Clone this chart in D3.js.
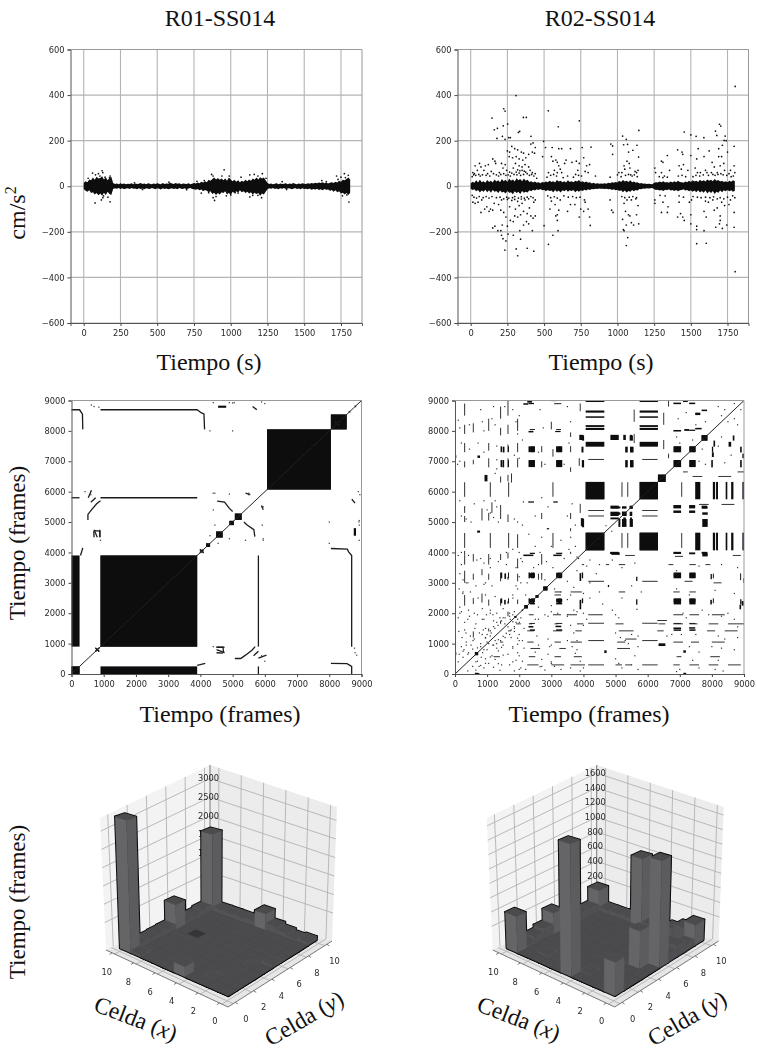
<!DOCTYPE html>
<html>
<head>
<meta charset="utf-8">
<script src="https://cdn.jsdelivr.net/npm/d3@7"></script>
<style>
html, body { margin: 0; padding: 0; background: #fff; }
svg { display: block; }
.lbl { font-family: "Liberation Serif", serif; fill: #111; }
.tick text, .tk { font-family: "DejaVu Sans", sans-serif; font-size: 8.3px; fill: #2a2a2a; }
</style>
</head>
<body>
<div id="chart"></div>
<script>
var width = 757, height = 1051;

// ---- scatter panels: edge of the solid band, one value every bandStep seconds, then the loose points
var bandStep = 12.5;
var r01Upper = [14,22,18,30,26,38,28,42,34,36,44,30,40,26,36,42,
  14,10,12,9,13,10,12,9,11,10,13,9,12,10,11,14,
  10,12,9,13,11,9,12,10,13,11,9,14,10,12,11,15,
  12,10,14,11,13,9,12,11,10,13,9,11,
  14,12,17,13,20,16,22,18,28,24,32,38,30,36,28,34,
  26,34,24,38,30,22,28,20,26,18,24,20,28,22,30,24,
  34,28,38,30,40,34,38,26,14,
  10,12,9,11,13,9,12,10,11,13,9,12,10,14,11,9,12,10,13,11,
  10,13,11,14,12,15,13,16,14,18,13,16,12,15,18,14,20,16,24,20,28,26,32,38,30];
var r01Lower = [-12,-20,-24,-18,-30,-26,-36,-30,-40,-32,-42,-28,-38,-24,-34,-38,
  -12,-9,-11,-8,-12,-9,-13,-10,-9,-12,-8,-11,-10,-13,-9,-12,
  -10,-13,-9,-11,-12,-8,-10,-13,-9,-11,-14,-9,-12,-10,-13,-11,
  -9,-12,-10,-13,-8,-11,-12,-9,-13,-10,-8,-12,
  -13,-15,-12,-18,-14,-22,-16,-20,-26,-22,-34,-28,-38,-30,-36,-26,
  -30,-22,-36,-28,-40,-24,-30,-22,-28,-18,-26,-22,-30,-24,-32,-26,
  -36,-28,-34,-30,-42,-32,-36,-24,-13,
  -9,-11,-8,-12,-10,-13,-9,-11,-8,-12,-10,-9,-13,-11,-8,-12,-10,-13,-9,-12,
  -11,-13,-10,-15,-12,-14,-11,-16,-13,-18,-12,-15,-14,-20,-16,-24,-18,-26,-22,-32,-28,-36,-30,-38,-28];
var r01Points = [[77,-73],[179,-68],[1804,-69],[60,58],[80,50],[100,55],[125,68],[130,60],[110,45],[145,40],[180,45],[175,38],[30,35],
  [120,-60],[130,-50],[165,-48],[135,-42],[955,72],[870,52],[880,45],[940,45],[890,-62],[880,-50],[900,-45],[970,-42],[1000,-38],[990,45],
  [1070,40],[1130,50],[1160,52],[1185,45],[1215,55],[1210,-50],[1185,-40],[1130,-47],[1150,-40],[1050,-30],[1030,-28],[1240,35],[1730,30],
  [1773,55],[1720,45],[1800,48],[1780,38],[1750,40],[1760,-42],[1790,-38],[1350,20],[1620,25],[700,-15],[400,-14],[1380,-14],[580,18],
  [345,15],[1650,20],[820,25],[770,22],[800,-30],[850,-28]];
var r02Upper = [12,20,15,26,16,29,18,22,15,27,19,24,16,30,21,26,18,32,22,29,19,34,24,30,21,35,26,32,22,34,24,29,19,22,16,21,15,18,13,19,
  16,21,18,24,19,22,16,27,21,24,18,22,16,26,19,22,18,24,21,27,19,22,16,21,15,18,12,15,11,13,11,12,11,13,11,15,13,18,15,19,
  16,24,19,27,21,24,19,26,18,21,15,18,12,14,11,12,10,11,10,9,15,18,16,21,18,22,16,19,15,21,16,22,18,24,19,18,15,21,18,24,
  19,26,21,24,19,29,22,26,21,30,24,29,22,32,24,27,21,24,19,22,18,24,20,26,22];
var r02Lower = [-11,-16,-13,-22,-16,-27,-19,-24,-15,-26,-18,-29,-16,-24,-21,-30,-19,-27,-24,-32,-21,-29,-26,-35,-22,-30,-24,-34,-21,-29,-24,-27,-18,-22,-15,-19,-13,-16,-12,-18,
  -15,-22,-16,-21,-19,-26,-16,-24,-19,-27,-18,-22,-15,-24,-18,-21,-16,-26,-19,-24,-18,-21,-15,-19,-13,-16,-12,-13,-11,-12,-10,-11,-11,-12,-11,-13,-12,-16,-13,-18,
  -15,-21,-18,-26,-19,-27,-21,-24,-16,-22,-16,-19,-12,-13,-10,-11,-9,-10,-9,-8,-13,-16,-15,-19,-16,-21,-15,-18,-13,-19,-16,-21,-16,-22,-18,-16,-13,-19,-16,-22,
  -18,-24,-19,-26,-18,-27,-21,-29,-19,-32,-22,-30,-21,-34,-24,-29,-19,-26,-18,-22,-16,-22,-18,-24,-20];
var r02Points = [[309,398],[1802,438],[145,299],[225,340],[234,330],[529,331],[740,287],[597,261],[252,273],[222,265],[161,248],[182,254],
  [325,236],[334,241],[359,302],[379,302],[411,219],[216,219],[179,210],[234,206],[259,213],[270,213],[497,197],[1668,242],[1677,223],
  [1695,272],[1704,264],[1734,220],[1741,200],[1727,201],[1455,238],[1500,225],[1536,219],[1589,213],[1035,220],[1060,206],[1146,245],
  [1133,180],[955,185],[967,177],[967,140],[1042,182],[1069,184],[1076,150],[1105,158],[1144,128],
  [280,175],[300,165],[320,160],[345,150],[360,145],[265,150],[250,155],[262,130],[285,125],[310,130],[330,120],[355,115],[375,125],
  [395,140],[420,150],[435,145],[410,185],[440,170],[425,190],[305,100],[330,90],[350,85],[290,80],[370,95],[395,85],[235,95],[220,80],
  [245,70],[210,100],[150,120],[165,110],[170,100],[100,90],[120,95],[60,100],[70,85],[30,90],[45,70],[90,70],[140,65],[195,60],[15,60],
  [25,55],[320,72],[335,68],[350,70],[365,66],[310,62],[330,58],[375,62],[265,62],[280,58],[420,60],[440,55],[405,70],
  [555,170],[600,165],[620,165],[510,170],[490,130],[560,110],[580,115],[590,105],[600,90],[550,130],[610,75],[530,60],[570,70],[590,60],
  [620,60],[640,100],[650,115],[680,165],[690,105],[720,110],[740,100],[760,170],[770,125],[790,90],[810,95],[820,172],[780,65],[800,60],
  [730,70],[850,45],[950,40],[1000,50],[1010,60],[1050,75],[1065,110],[1080,100],[1085,80],[1120,65],[1130,60],[1140,70],[1045,90],
  [1030,60],[1090,50],[1255,80],[1260,60],[1300,110],[1310,105],[1340,135],[1300,60],[1320,45],[1355,70],[1410,160],[1440,150],
  [1445,140],[1420,90],[1435,75],[1450,95],[1480,70],[1500,135],[1530,80],[1550,165],[1540,120],[1545,60],[1565,60],[1590,130],[1600,70],
  [1625,155],[1645,105],[1610,60],[1660,85],[1690,130],[1710,130],[1725,100],[1690,165],[1715,180],[1750,150],[1770,70],[1795,175],
  [1795,90],[1800,60],[1680,60],[1700,90],[1730,70],[1760,55],[1640,60],
  // close to the band
  [10,42],[20,50],[35,48],[55,52],[65,45],[80,50],[105,48],[115,55],[130,45],[155,55],[175,50],[190,45],[205,52],[225,55],[240,48],[255,50],
  [270,45],[295,52],[315,50],[340,48],[360,52],[385,55],[400,48],[415,52],[430,45],[450,35],[520,40],[545,48],[565,52],[585,45],[630,38],
  [660,45],[700,40],[715,52],[735,48],[755,45],[1025,42],[1055,48],[1075,52],[1100,45],[1115,50],[1135,42],[1285,42],[1310,38],[1340,40],
  [1415,45],[1440,48],[1465,42],[1515,42],[1535,48],[1560,45],[1585,50],[1620,48],[1650,52],[1665,48],[1685,52],[1705,55],[1720,50],[1745,48],
  [1775,42],[1790,45],
  [10,-40],[22,-48],[40,-52],[58,-45],[85,-50],[105,-45],[125,-52],[145,-45],[175,-50],[200,-48],[225,-55],[245,-48],[260,-52],[285,-50],
  [300,-45],[325,-52],[345,-46],[365,-52],[385,-48],[410,-45],[425,-50],[525,-42],[545,-50],[570,-46],[590,-52],[635,-42],[665,-48],[695,-45],
  [720,-50],[745,-48],[1030,-45],[1050,-50],[1080,-48],[1105,-45],[1130,-50],[1290,-40],[1325,-42],[1420,-42],[1450,-48],[1515,-45],[1545,-48],
  [1570,-50],[1600,-48],[1630,-50],[1655,-46],[1680,-55],[1700,-50],[1725,-55],[1750,-48],[1785,-42],
  [1802,-375],[320,-305],[233,-280],[385,-272],[310,-275],[430,-285],[530,-255],[1060,-260],[1540,-252],[1605,-250],[1070,-225],[560,-215],
  [290,-215],[340,-232],[240,-240],[220,-230],[210,-215],[205,-195],[150,-183],[165,-175],[185,-195],[255,-210],[335,-195],[360,-170],
  [380,-155],[395,-165],[420,-195],[410,-130],[425,-140],[440,-130],[215,-170],[250,-175],[270,-150],[290,-155],[300,-130],[320,-135],
  [340,-125],[360,-110],[385,-120],[240,-135],[225,-115],[205,-105],[150,-105],[125,-110],[135,-100],[70,-115],[95,-100],[110,-90],[15,-70],
  [30,-75],[50,-70],[75,-60],[160,-75],[190,-80],[265,-90],[305,-100],[330,-85],[350,-75],[400,-95],[430,-70],[440,-60],[280,-62],[300,-58],
  [320,-66],[345,-56],[370,-60],[395,-55],[250,-58],[210,-60],
  [500,-173],[540,-100],[595,-195],[590,-150],[580,-130],[590,-125],[600,-105],[550,-65],[575,-80],[610,-60],[660,-110],[680,-80],[710,-80],
  [740,-135],[750,-100],[770,-110],[780,-70],[815,-172],[810,-135],[800,-100],[775,-60],[950,-60],[960,-105],[970,-115],[1035,-145],
  [1040,-190],[1045,-195],[1060,-170],[1075,-125],[1085,-130],[1095,-160],[1110,-170],[1145,-165],[1130,-125],[1140,-85],[1055,-110],
  [1045,-75],[1065,-60],[1095,-60],[1125,-55],[1255,-60],[1255,-75],[1300,-115],[1340,-115],[1345,-90],[1310,-70],[1410,-135],[1430,-120],
  [1445,-135],[1455,-150],[1420,-70],[1490,-70],[1500,-125],[1500,-165],[1505,-60],[1540,-175],[1540,-190],[1590,-195],[1605,-135],
  [1590,-110],[1620,-70],[1660,-105],[1670,-180],[1680,-95],[1695,-165],[1700,-130],[1700,-150],[1715,-185],[1745,-170],[1730,-85],
  [1710,-70],[1650,-60],[1795,-180],[1795,-115],[1800,-50],[1770,-60],[1760,-80],[1600,-65]];
var timeTicks = [0,250,500,750,1000,1250,1500,1750];
var accelTicks = [-600,-400,-200,0,200,400,600];

// ---- recurrence panels, in frames. Everything is drawn twice, mirrored on the diagonal
var frameTicks = [0,1000,2000,3000,4000,5000,6000,7000,8000,9000];
var r01Blocks = [[900,3900,900,3900],[0,250,900,3900],[0,250,0,250],[6070,8050,6070,8050],[8050,8540,8050,8540],
  [4490,4690,4490,4690],[5070,5280,5070,5280],[4900,5040,4900,5040],[4180,4300,4180,4300],[4550,4800,8760,8830]];
var r01Lines = [[[900,8695],[3900,8695],[4020,8600],[4110,8560],[4130,8050]],
  [[0,8695],[250,8695],[340,8550],[350,8050]],
  [[900,5800],[3900,5800]],[[0,5800],[250,5800]],
  [[4520,5690],[4750,5660],[4900,5450],[5000,5350]],
  [[5070,510],[5250,510],[5400,620],[5600,780],[5700,900]],
  [[3900,280],[4150,350]],[[4500,880],[4700,880],[4720,700]],[[4500,700],[4700,690]],
  [[700,4750],[800,4500]],[[880,4750],[880,4500]],[[5400,5950],[5550,5900]],[[600,5650],[750,5800]],[[620,6050],[520,5800]],
  [[5620,8800],[5750,8700]],[[740,740],[860,860]],[[740,860],[860,740]],
  [[4000,3980],[4100,4100]],[[4000,4100],[4100,3980]]];
var r01Dots = [[700,8800],[850,8780],[620,8850],[4300,8000],[4900,8930],[5000,8920],[4400,5950],[4900,5920],[5500,5900],[5950,5500],
  [4550,4300],[4900,4450],[5400,4400],[5950,4450],[8000,5000],[8930,5050],[8950,5900],[8900,6000],[8930,4400],[4400,900],[5900,600],[6000,420],
  [8200,8280],[8620,8640],[8800,8820]];

var r02BigBlocks = [[4070,4650],[5750,6320]];
var r02BigCols = [[7480,7640],[8030,8100],[8130,8190],[8430,8480],[8600,8670],[8950,9000]];
var r02ThinLevels = [300,1100,1670,3050,5200,5380,7060];
var r02MidRows = [[2330,2490],[3150,3340]];
var r02MidCols = [[1420,1470],[1650,1680],[2290,2340],[2370,2470],[3160,3180],[3190,3320],[3950,3990]];
var r02HighRows = [[6810,7040],[7300,7490]];
var r02Blocks = [[6320,6560,6320,6560],[5090,5150,4840,5100],[4840,5100,7700,7870],[5240,5320,4870,5150],[5450,5510,4870,5150],
  [5240,5320,7700,7870],[5450,5510,7700,7870],[7680,7860,7680,7860],[4840,5100,5440,5540],[4840,5100,5200,5340],[5440,5520,5200,5340],
  [5440,5520,5440,5540],[5200,5340,5200,5340],[2160,2270,2160,2270],[2750,2880,2750,2880],[2510,2600,2510,2600],[1850,1910,1850,1910],
  [620,720,620,720],[0,30,690,760],[620,720,0,40],[6340,6550,920,1010],[2130,2280,8860,8910],[2290,2460,8880,8920],[3090,3310,8880,8910],
  [4760,4800,2860,2930],[7110,7190,700,780],[7110,7200,0,40],[4650,4720,690,780],[3870,4000,7700,7870],[3920,4000,4870,5130],
  [2290,2440,7950,8000],[3120,3290,7960,8000],[6800,7040,8880,8930],[7290,7480,8880,8930],[6800,7040,7980,8030],[7290,7480,8000,8040],
  [7480,7640,8520,8600],[7680,7850,8650,8700],[7480,7680,8050,8100],[6800,7040,5450,5560],[6800,7040,5300,5380],[7290,7480,5450,5560],
  [7290,7480,5300,5380],[7680,7850,5440,5540],[4830,5100,3950,4020],[6800,7040,3950,4020],[7290,7480,3940,4000],[7680,7850,3960,4020],
  [6800,7040,1480,1530],[7290,7480,1490,1540],[8950,9000,7100,7250],[8930,8990,2250,2400],[8980,9000,3000,3150],[2130,2440,3880,3930],
  [3060,3320,3880,3930],[2280,2460,5640,5680],[3060,3200,5640,5680],[2290,2440,1530,1580],[3130,3310,1540,1590],[8000,8060,7140,7290],
  [8030,8060,3150,3300],[8030,8060,2330,2490]];
// dashes that run along one level: [level, from, to]
var r02Dashes = [[300,2250,2600],[300,3600,3900],[300,5000,5200],[300,6800,7000],[300,7900,8200],[300,8500,8900],
  [570,1200,1400],[570,2300,2500],[570,3100,3300],[570,3700,3950],[570,6900,7050],[570,7950,8250],
  [1050,1400,1500],[1050,2250,2450],[1050,3100,3300],[1050,3600,3950],[1050,5050,5300],[1050,6800,7100],[1050,7350,7600],[1050,8000,8400],
  [1420,1650,1750],[1420,2250,2460],[1420,3050,3330],[1420,3750,3950],[1420,5100,5300],[1420,6300,6500],[1420,7850,8100],[1420,8400,8800],
  [1650,1900,2050],[1650,2300,2400],[1650,3100,3200],[1650,3800,4000],[1650,5000,5250],[1650,6340,6550],[1650,6800,7100],[1650,7300,7550],[1650,7900,8200],[1650,8500,9000],
  [1950,2300,2450],[1950,3050,3300],[1950,3500,3800],[1950,4150,4600],[1950,6800,7100],[1950,7300,7600],[1950,8000,8400],
  [2700,3100,3300],[2700,3600,3950],[2700,5100,5300],[2700,6800,7000],[2700,7300,7500],
  [3600,3950,4020],[3600,4700,4800],[3600,5100,5300],[3600,6650,6800],[3600,7300,7500],[3600,7800,7950],
  [300,3000,3400],[300,3900,4050],[300,5300,5500],[300,7300,7600],
  [840,5050,5450],[840,2350,2650],[840,3250,3450],[1150,5300,5650],[1420,5300,5560],[1760,6300,6600],[3900,5300,5600],[3870,6850,7100],
  [3900,8650,8900],[3050,7150,7400],[3000,8050,8300],[2130,5640,5690],[2600,3100,3300],[5580,7600,7900],[5580,8300,8700],[6500,7400,7700],
  [6500,8200,8600],[6650,8800,9000],[6650,7100,7250],[4700,4860,4900]];
var r02Dots = [[100,8350],[150,8100],[450,8200],[800,8700],[900,8000],[1200,8800],[1250,8200],[900,7300],[1300,7500],[1800,8700],[1900,8300],
  [1950,7900],[1850,7200],[2000,7100],[200,7600],[150,7000],[80,6900],[1250,6600],[1300,6750],[150,5700],[300,5500],[600,5600],[900,5700],
  [1000,5400],[1100,5300],[1250,5700],[1300,5500],[1200,5150],[1350,5000],[1850,5100],[1950,5000],[2100,4900],[200,5200],[350,5100],[500,5000],
  [250,3100],[400,3000],[650,2900],[900,2950],[1600,3600],[1900,3500],[2100,3700],[2600,3600],[2700,3300],[2800,3100],[150,2200],[600,2000],
  [850,2150],[1100,2100],[1300,2000],[1500,2150],[1700,2000],[100,1850],[300,1700],[450,1900],[650,1650],[900,1800],[1200,1750],[1400,1850],
  [1550,1650],[1900,1700],[2600,1800],[2900,1900],[3200,2000],[3500,1950],[3800,2050],[200,900],[350,1050],[500,950],[800,900],[950,1200],
  [1050,1000],[1250,1100],[1500,950],[1800,850],[2000,1100],[2900,1150],[3000,950],[3500,1100],[3800,800],[100,400],[250,550],[650,400],
  [750,250],[950,350],[1150,600],[1450,300],[1800,400],[2000,150],[2700,250],[3000,350],[3300,150],[3600,200],[3900,100],[2300,4600],[2500,4200],
  [2700,4500],[3000,4200],[3300,4400],[3550,4100],[3600,4500],[6900,7800],[7000,7600],[7500,8200],[7800,8300],[8200,8800],[8400,8700],[8500,8300],
  [8700,8900],[6950,8400],[7200,8600],[7400,7700],
  [120,1400],[220,1200],[340,1350],[480,1250],[560,1100],[620,1500],[760,1350],[880,1450],[1000,1300],[1130,1350],[1240,1500],[1340,1600],
  [1450,1750],[1560,1850],[1720,1800],[1800,1950],[200,2050],[420,2100],[700,1950],[980,1950],[1180,1950],[130,650],[280,800],[420,700],[550,820],
  [860,700],[1000,800],[1180,950],[1300,850],[1420,1100],[1560,1200],[1700,1300],[1850,1500],[2050,1850],[2100,2100],[130,2800],[240,2650],[480,2700],
  [720,2500],[950,2600],[1250,2550],[1800,2500],[1950,2800],[2050,3000],[2200,2600],[2250,3000],[2450,3500],[2650,4000],[2850,3700],[3050,3500],
  [3400,3800],[3750,4200],[3850,3800],[200,4000],[420,3900],[680,3750],[900,3650],[1100,3800],[1350,3700],[1600,4000],[1800,4100],[2000,4000],
  [450,7400],[720,7600],[850,8300],[1150,8400],[1300,7050],[1550,8800],[2000,8500],[2100,7700],[2650,8700],[2750,8100],[2600,7300],[2800,6900],
  [3500,8800],[3600,8300],[3550,7600],[3400,6900],[2500,5200],[2700,5800],[2900,5500],[3500,5200],[3650,5600],[3750,4900]];

// ---- 3d histogram panels: [cell x, cell y, frames], cells that are not listed are flat
var r01Heights = [[9,0,3150],[9,9,1980],[9,5,620],[9,8,150],[9,7,110],[9,6,110],[9,4,130],[9,3,120],[9,2,110],[9,1,110],[4,9,400],[5,9,120],[6,9,110],[7,9,110],
  [8,9,110],[3,9,170],[2,9,110],[1,9,60],[0,9,90],[4,0,230],[8,0,70],[2,1,30],[0,5,70],[1,4,20]];
var r02Heights = [[4,0,1600],[5,9,890],[0,5,1300],[1,4,460],[0,0,390],[9,0,460],[9,9,280],[9,4,280],[9,6,130],[9,2,90],[9,3,130],[9,5,90],[9,1,50],[9,7,90],[9,8,90],
  [0,9,260],[1,9,170],[2,9,110],[3,9,70],[4,9,60],[6,9,60],[7,9,60],[8,9,60],[0,7,130],[0,8,80],[0,6,90],[1,6,40],[1,7,30],[7,1,30],[6,1,20],[3,1,25],[2,3,15]];
var r01ZTicks = [500,1000,1500,2000,2500,3000];
var r02ZTicks = [200,400,600,800,1000,1200,1400,1600];
var cellTicks = [0,2,4,6,8,10];

var svg = d3.select("#chart").append("svg").attr("width", width).attr("height", height);
svg.append("defs").append("filter").attr("id", "soft")
  .attr("x", "-5%").attr("y", "-5%").attr("width", "110%").attr("height", "110%")
  .append("feGaussianBlur").attr("stdDeviation", 0.42);

var layer = svg.append("g").attr("filter", "url(#soft)");

function drawFrame(g, box, x, y, xTicks, yTicks)
{
  // grid goes under the marks
  g.append("g").selectAll("line").data(xTicks).join("line")
    .attr("x1", d => x(d)).attr("x2", d => x(d)).attr("y1", box.y0).attr("y2", box.y1)
    .attr("stroke", "#b4b4b4").attr("stroke-width", 1.1);
  g.append("g").selectAll("line").data(yTicks).join("line")
    .attr("y1", d => y(d)).attr("y2", d => y(d)).attr("x1", box.x0).attr("x2", box.x1)
    .attr("stroke", "#b4b4b4").attr("stroke-width", 1.1);
}

function drawAxes(g, box, x, y, xTicks, yTicks, fmt)
{
  var xAxis = d3.axisBottom(x).tickValues(xTicks).tickSize(3).tickPadding(4).tickFormat(fmt);
  var yAxis = d3.axisLeft(y).tickValues(yTicks).tickSize(3).tickPadding(3).tickFormat(fmt);
  g.append("g").attr("transform", "translate(0," + box.y1 + ")").call(xAxis);
  g.append("g").attr("transform", "translate(" + box.x0 + ",0)").call(yAxis);
  g.selectAll(".domain").attr("stroke", "#555");
  g.selectAll(".tick line").attr("stroke", "#444");
  g.append("line").attr("x1", box.x0).attr("x2", box.x1).attr("y1", box.y0).attr("y2", box.y0).attr("stroke", "#999");
  g.append("line").attr("x1", box.x1).attr("x2", box.x1).attr("y1", box.y0).attr("y2", box.y1).attr("stroke", "#999");
}

function drawScatter(box, upper, lower, points)
{
  var g = layer.append("g");
  var x = d3.scaleLinear().domain([-90, 1893]).range([box.x0, box.x1]);
  var y = d3.scaleLinear().domain([-600, 600]).range([box.y1, box.y0]);
  drawFrame(g, box, x, y, timeTicks, accelTicks);
  var band = upper.map((u, i) => [i * bandStep, u, lower[i]]);
  var area = d3.area().x(d => x(d[0])).y0(d => y(d[2])).y1(d => y(d[1]));
  g.append("path").datum(band).attr("d", area).attr("fill", "#0a0a0c");
  g.append("g").selectAll("circle").data(points).join("circle")
    .attr("cx", d => x(d[0])).attr("cy", d => y(d[1])).attr("r", 0.85).attr("fill", "#111");
  drawAxes(g, box, x, y, timeTicks, accelTicks, d3.format(""));
}

function drawRecurrence(box, blocks, lines, dots, lineWidth)
{
  var g = layer.append("g");
  var x = d3.scaleLinear().domain([0, 9000]).range([box.x0, box.x1]);
  var y = d3.scaleLinear().domain([0, 9000]).range([box.y1, box.y0]);
  var line = d3.line().x(d => x(d[0])).y(d => y(d[1]));
  var mirrored = blocks.concat(blocks.map(b => [b[2], b[3], b[0], b[1]]));
  g.append("g").selectAll("rect").data(mirrored).join("rect")
    .attr("x", d => x(d[0])).attr("y", d => y(d[3]))
    .attr("width", d => x(d[1]) - x(d[0])).attr("height", d => y(d[2]) - y(d[3]))
    .attr("fill", "#0b0b0d");
  var allLines = lines.concat(lines.map(l => l.map(p => [p[1], p[0]])));
  g.append("g").selectAll("path").data(allLines).join("path")
    .attr("d", line).attr("fill", "none").attr("stroke", "#1c1c1e").attr("stroke-width", lineWidth);
  var allDots = dots.concat(dots.map(p => [p[1], p[0]]));
  g.append("g").selectAll("rect").data(allDots).join("rect")
    .attr("x", d => x(d[0]) - 0.6).attr("y", d => y(d[1]) - 0.6).attr("width", 1.2).attr("height", 1.2).attr("fill", "#333");
  g.append("path").datum([[0, 0], [9000, 9000]]).attr("d", line).attr("stroke", "#222").attr("stroke-width", 1);
  drawAxes(g, box, x, y, frameTicks, frameTicks, d3.format("d"));
}

// product rows of the R02 plot, built from the interval lists above
function r02AllBlocks()
{
  var out = r02Blocks.slice();
  r02BigBlocks.forEach(function(a) {
    r02BigBlocks.forEach(function(b) { out.push([a[0], a[1], b[0], b[1]]); });
    r02BigCols.forEach(function(c) { out.push([c[0], c[1], a[0], a[1]]); });
  });
  r02MidRows.forEach(function(r) {
    r02MidCols.forEach(function(c) { out.push([c[0], c[1], r[0], r[1]]); });
    r02HighRows.forEach(function(h) { out.push([h[0], h[1], r[0], r[1]]); });
  });
  r02HighRows.forEach(function(r) {
    r02MidCols.slice(0, 6).forEach(function(c) { out.push([c[0], c[1], r[0], r[1]]); });
    r02HighRows.forEach(function(h) { out.push([h[0], h[1], r[0], r[1]]); });
  });
  return out;
}

function r02AllLines()
{
  var out = r02Dashes.map(d => [[d[1], d[0]], [d[2], d[0]]]);
  r02ThinLevels.forEach(function(lev) {
    r02BigBlocks.forEach(function(b) { out.push([[b[0] + 80, lev], [b[1] - 10, lev]]); });
  });
  return out;
}

function mix(a, b, t) { return [a[0] + (b[0] - a[0]) * t, a[1] + (b[1] - a[1]) * t]; }

function drawHistogram(dx, heights, zTicks, zTop, zLabelTop, pxPerFrame)
{
  var g = layer.append("g").attr("transform", "translate(" + dx + ",0)");
  // pane corners
  var PF = [228, 1007], PL = [106, 950], PR = [332, 941], PB = [210, 900], TL = [100, 818], TB = [210, 765], TR = [337, 807];
  // floor of the bars
  var F = [228.3, 996], L = [120, 948.3], R = [316.7, 940], B = [210.7, 902.7];
  var cell = d3.scaleLinear().domain([0, 10]).range([0, 1]);
  var pane = d3.scaleLinear().domain([0, 10]).range([0.07, 0.95]);
  var wall = d3.scaleLinear().domain([0, zTop]).range([0.07, zLabelTop]);
  var poly = d3.line();

  function base(xv, yv)
  {
    return mix(mix(F, L, cell(xv)), mix(R, B, cell(xv)), cell(yv));
  }
  function project(xv, yv, zv)
  {
    var p = base(xv, yv);
    var depth = 1 - (cell(xv) + cell(yv)) / 2;
    var rise = zv * pxPerFrame * (1 + 0.2 * depth);
    return [p[0] + (p[0] - 212) * rise * 0.0004, p[1] - rise];
  }

  g.append("path").attr("d", poly([PL, PB, TB, TL]) + "Z").attr("fill", "#f3f3f3");
  g.append("path").attr("d", poly([PR, PB, TB, TR]) + "Z").attr("fill", "#ececec");
  g.append("path").attr("d", poly([PF, PL, PB, PR]) + "Z").attr("fill", "#e6e6e6");

  var gridLines = [];
  cellTicks.forEach(function(t) {
    gridLines.push([mix(PL, PB, pane(t)), mix(TL, TB, pane(t))]);
    gridLines.push([mix(PB, PR, pane(t)), mix(TB, TR, pane(t))]);
    gridLines.push([mix(PL, PF, pane(10 - t)), mix(PB, PR, pane(10 - t))]);
    gridLines.push([mix(PR, PF, pane(10 - t)), mix(PB, PL, pane(10 - t))]);
  });
  zTicks.forEach(function(z) {
    var t = wall(z);
    gridLines.push([mix(PL, TL, t), mix(PB, TB, t)]);
    gridLines.push([mix(PR, TR, t), mix(PB, TB, t)]);
  });
  g.append("g").selectAll("path").data(gridLines).join("path")
    .attr("d", poly).attr("fill", "none").attr("stroke", "#b2b2b2").attr("stroke-width", 0.9);

  // axis edges and their ticks
  var edges = [[PL, PF], [PF, PR], [PB, TB]];
  g.append("g").selectAll("path").data(edges).join("path")
    .attr("d", poly).attr("fill", "none").attr("stroke", "#444").attr("stroke-width", 0.7);
  var tickMarks = [];
  cellTicks.forEach(function(t) {
    var a = mix(PF, PL, pane(t));
    tickMarks.push([a, [a[0] - 2.6, a[1] + 1.6]]);
    var b = mix(PF, PR, pane(t));
    tickMarks.push([b, [b[0] + 2.6, b[1] + 1.6]]);
  });
  g.append("g").selectAll("path").data(tickMarks).join("path")
    .attr("d", poly).attr("stroke", "#444").attr("stroke-width", 0.7);

  // tick labels
  var xLabelX = d3.scaleLinear().domain([0, 10]).range([215, 106.7]);
  var xLabelY = d3.scaleLinear().domain([0, 10]).range([1021, 972]);
  var yLabelX = d3.scaleLinear().domain([0, 10]).range([246, 334.5]);
  var yLabelY = d3.scaleLinear().domain([0, 10]).range([1019, 961]);
  g.append("g").selectAll("text").data(cellTicks).join("text").attr("class", "tk")
    .attr("x", xLabelX).attr("y", xLabelY).attr("text-anchor", "middle").attr("dy", "0.35em").text(d => d);
  g.append("g").selectAll("text").data(cellTicks).join("text").attr("class", "tk")
    .attr("x", yLabelX).attr("y", yLabelY).attr("text-anchor", "middle").attr("dy", "0.35em").text(d => d);
  g.append("g").selectAll("text").data(zTicks).join("text").attr("class", "tk")
    .attr("x", 208.5).attr("y", d => mix(PB, TB, wall(d))[1]).attr("text-anchor", "middle").attr("dy", "0.35em").text(d => d);

  // bars, back to front
  var heightOf = {};
  heights.forEach(function(h) { heightOf[h[0] + "_" + h[1]] = h[2]; });
  var cells = [];
  d3.range(9, -1, -1).forEach(function(i) {
    d3.range(9, -1, -1).forEach(function(j) {
      cells.push({i: i, j: j, h: heightOf[i + "_" + j] || 0});
    });
  });
  function faces(c)
  {
    var i = c.i, j = c.j, h = c.h;
    return {
      top: [project(i, j, h), project(i + 1, j, h), project(i + 1, j + 1, h), project(i, j + 1, h)],
      left: [project(i, j, 0), project(i + 1, j, 0), project(i + 1, j, h), project(i, j, h)],
      right: [project(i, j, 0), project(i, j + 1, 0), project(i, j + 1, h), project(i, j, h)]
    };
  }
  var outline = g.append("g");
  var fill = g.append("g");
  cells.forEach(function(c) {
    var f = faces(c);
    [f.top, f.left, f.right].forEach(function(q) {
      outline.append("path").attr("d", poly(q) + "Z").attr("fill", "#000").attr("stroke", "#000")
        .attr("stroke-width", 2.2).attr("stroke-linejoin", "round");
    });
  });
  cells.forEach(function(c) {
    var f = faces(c);
    var special = (dx === 0 && c.i === 7 && c.j === 5);
    var low = c.h < 200;
    if (c.h > 0) {
      var leftCol = low ? "#535355" : "#656567", rightCol = low ? "#505052" : "#5c5c5e";
      fill.append("path").attr("d", poly(f.left) + "Z").attr("fill", leftCol).attr("stroke", leftCol).attr("stroke-width", 0.4);
      fill.append("path").attr("d", poly(f.right) + "Z").attr("fill", rightCol).attr("stroke", rightCol).attr("stroke-width", 0.4);
    }
    fill.append("path").attr("d", poly(f.top) + "Z").attr("fill", special ? "#343436" : "#4c4c4e")
      .attr("stroke", c.h > 0 ? "#565656" : "#505052").attr("stroke-width", 0.5);
  });
}

drawScatter({x0: 70.5, x1: 362, y0: 49.5, y1: 323}, r01Upper, r01Lower, r01Points);
drawScatter({x0: 457.5, x1: 748.5, y0: 49.5, y1: 323}, r02Upper, r02Lower, r02Points);
drawRecurrence({x0: 71.5, x1: 361.5, y0: 400.5, y1: 674}, r01Blocks, r01Lines, r01Dots, 1.3);
drawRecurrence({x0: 455, x1: 744, y0: 400.5, y1: 674}, r02AllBlocks(), r02AllLines(), r02Dots, 0.9);
drawHistogram(0, r01Heights, r01ZTicks, 3000, 0.90, 0.038);
drawHistogram(386.7, r02Heights, r02ZTicks, 1600, 0.94, 0.0717);

// ---- serif labels
function label(txt, x, y, size, rot)
{
  var t = svg.append("text").attr("class", "lbl").attr("text-anchor", "middle")
    .attr("font-size", size).attr("transform", "translate(" + x + "," + y + ") rotate(" + (rot || 0) + ")");
  t.text(txt);
  return t;
}
function cellLabel(name, axis, x, y, rot)
{
  var t = label("", x, y, 23.5, rot);
  t.append("tspan").text(name + " (");
  t.append("tspan").attr("font-style", "italic").text(axis);
  t.append("tspan").text(")");
}

label("R01-SS014", 220, 26, 24);
label("R02-SS014", 600, 26, 24);
label("Tiempo (s)", 209, 370, 24);
label("Tiempo (s)", 601, 370, 24);
label("Tiempo (frames)", 220, 722, 24);
label("Tiempo (frames)", 589, 722, 24);
label("Tiempo (frames)", 25, 543, 23, -90);
label("Tiempo (frames)", 25, 902, 23, -90);
var cm = label("cm/s", 25, 213, 24, -90);
cm.append("tspan").attr("font-size", 16).attr("dy", -9).text("2");
cellLabel("Celda", "x", 133, 1026, 21);
cellLabel("Celda", "y", 308, 1025, -30);
cellLabel("Celda", "x", 516, 1026, 21);
cellLabel("Celda", "y", 691, 1025, -30);
</script>
</body>
</html>
